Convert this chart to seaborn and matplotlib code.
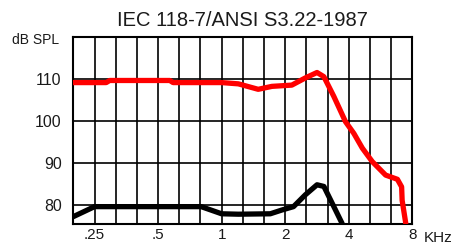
import matplotlib
matplotlib.use('Agg')
import matplotlib.pyplot as plt
from matplotlib.ticker import FixedLocator, NullFormatter
import seaborn as sb
import pandas as pd
import numpy as np

# OSPL90 curve (red) and full-on gain curve (black)
red_khz = [0.198, 0.284, 0.295, 0.568, 0.589, 1.0, 1.2, 1.49, 1.73, 2.15, 2.49,
           2.83, 3.05, 3.40, 3.86, 4.23, 4.64, 5.17, 5.98, 6.80, 7.12, 7.16, 7.45]
red_db = [109.1, 109.1, 109.6, 109.6, 109.1, 109.1, 108.8, 107.5, 108.2, 108.5, 110.2,
          111.5, 110.5, 105.8, 99.8, 97.0, 93.5, 90.3, 87.1, 86.1, 84.3, 81.1, 75.6]

black_khz = [0.198, 0.25, 0.80, 1.0, 1.2, 1.70, 1.93, 2.19, 2.49, 2.83, 3.05, 3.40, 3.72]
black_db = [77.2, 79.6, 79.6, 77.9, 77.8, 77.9, 78.8, 79.6, 82.4, 84.8, 84.4, 79.6, 75.6]

freq_ticks = [0.25, 0.5, 1, 2, 4, 8]
freq_labels = ['.25', '.5', '1', '2', '4', '8']
db_ticks = [80, 90, 100, 110]

curves = pd.concat([
    pd.DataFrame({'khz': red_khz, 'db': red_db, 'curve': 'ospl90'}),
    pd.DataFrame({'khz': black_khz, 'db': black_db, 'curve': 'gain'}),
])

sb.set_style('white')
plt.rcParams['font.family'] = ['Liberation Sans', 'DejaVu Sans']

fig = plt.figure(figsize=(4.56, 2.45), dpi=100)
ax = fig.add_axes([0.1608, 0.0845, 0.9042 - 0.1608, 0.850 - 0.0845])

sb.lineplot(data=curves, x='khz', y='db', hue='curve', units='curve',
            estimator=None, sort=False,
            palette={'ospl90': '#ff0000', 'gain': '#000000'},
            linewidth=3.8, legend=False, ax=ax, zorder=3,
            solid_capstyle='round', solid_joinstyle='round')

ax.set_xscale('log', base=2)
ax.set_xlim(0.25 * 2 ** (-1 / 3), 8)
ax.set_ylim(75.4, 120)

third_oct = [0.25 * 2 ** (k / 3) for k in range(-1, 16)]
ax.xaxis.set_major_locator(FixedLocator(freq_ticks))
ax.set_xticklabels(freq_labels)
ax.xaxis.set_minor_locator(FixedLocator(third_oct))
ax.xaxis.set_minor_formatter(NullFormatter())
ax.set_yticks(db_ticks)
ax.set_yticklabels([str(v) for v in db_ticks])

ax.grid(True, which='both', axis='x', color='black', linewidth=1.2)
ax.grid(True, which='major', axis='y', color='black', linewidth=1.2)
ax.tick_params(which='both', length=0, colors='#1a1a1a')
ax.tick_params(axis='y', pad=8.4, labelsize=11.4)
ax.tick_params(axis='x', pad=2.6, labelsize=11)
for s in ax.spines.values():
    s.set_color('black')
    s.set_linewidth(1.5)

ax.set_xlabel('')
ax.set_ylabel('')
ax.set_title('IEC 118-7/ANSI S3.22-1987', fontsize=14.5, pad=8, color='#1a1a1a')
ax.text(-0.041, 0.985, 'dB SPL', transform=ax.transAxes, ha='right', va='center',
        fontsize=10, color='#1a1a1a')
ax.text(1.0325, -0.0938, 'KHz', transform=ax.transAxes, ha='left', va='baseline',
        fontsize=11, color='#1a1a1a')

plt.savefig('out.png', dpi=100)
